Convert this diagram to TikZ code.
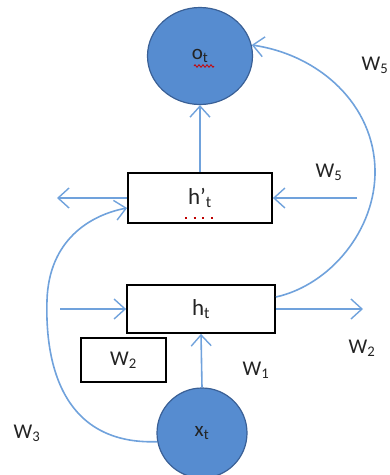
\documentclass[tikz,border=0pt]{standalone}
\usepackage{fontspec}
\setmainfont{Carlito}
\usetikzlibrary{arrows.meta,shapes.geometric,decorations.pathmorphing}

\definecolor{unitfill}{RGB}{86,140,208}
\definecolor{unitline}{RGB}{58,96,150}
\definecolor{wire}{RGB}{112,162,220}
\definecolor{ink}{RGB}{35,35,35}

\tikzset{
  unit/.style={ellipse, draw=unitline, line width=1.2pt, fill=unitfill,
               text=ink, inner sep=0pt},
  cell/.style={rectangle, draw=black, line width=1.8pt, fill=white,
               text=ink, inner sep=0pt},
  lbl/.style={text=ink, inner sep=0pt},
  conn/.style={draw=wire, line width=1.6pt,
               -{Straight Barb[length=11pt,width=20pt,line width=1.4pt]}},
  squiggle/.style={draw=red!80!black, line width=0.8pt, decorate,
                   decoration={zigzag, amplitude=1.3pt, segment length=4pt}},
  dots/.style={draw=red!75!black, line width=2pt, dash pattern=on 2pt off 6.6pt}
}

\begin{document}
\begin{tikzpicture}[x=1pt,y=-1pt, font=\fontsize{21}{24}\selectfont]
\useasboundingbox (0,0) rectangle (390,475);

% units and cells
\node[unit, minimum width=105pt, minimum height=97pt] (o) at (200,56) {o\textsubscript{t}};
\node[unit, minimum width=90pt, minimum height=90pt] (x) at (202,433) {x\textsubscript{t}};
\node[cell, minimum width=144pt, minimum height=50pt, font=\fontsize{23}{26}\selectfont]
     (hp) at (200,198) {h’\textsubscript{t}};
\node[cell, minimum width=148pt, minimum height=48pt, font=\fontsize{23}{26}\selectfont]
     (h) at (201,309) {h\textsubscript{t}};
\node[cell, minimum width=85pt, minimum height=44pt] (w2box) at (123.5,360) {W\textsubscript{2}};

% spell-check marks under the labels
\draw[squiggle] ([xshift=-6pt,yshift=-10pt]o.center) -- ++(20,0);
\draw[dots] ([xshift=-15pt,yshift=-20pt]hp.center) -- ++(29,0);

% free ends of the connectors
\coordinate (inL) at (60,309);
\coordinate (outR) at (363,309);
\coordinate (inR) at (357,198);
\coordinate (outL) at (57,198);

% straight connectors
\draw[conn] (x.north) -- (h.south);
\draw[conn] (hp.north) -- (o.south);
\draw[conn] (inL) -- (h.west);
\draw[conn] (h.east) -- (outR);
\draw[conn] (inR) -- (hp.east);
\draw[conn] (hp.west) -- (outL);

% recurrent arcs
\draw[conn] ([yshift=12pt]h.east) .. controls (330,285) and (376,230) .. (375,170)
            .. controls (374,105) and (320,55) .. (o.12);
\draw[conn] (x.191) .. controls (60,445) and (45,360) .. (47,300)
            .. controls (49,240) and (90,215) .. ([yshift=-10pt]hp.west);

% weight labels
\node[lbl] (w5a) at (375,65) {W\textsubscript{5}};
\node[lbl] (w5b) at (329,172) {W\textsubscript{5}};
\node[lbl] (w2r) at (362,348) {W\textsubscript{2}};
\node[lbl] (w1) at (256,370) {W\textsubscript{1}};
\node[lbl] (w3) at (27,433) {W\textsubscript{3}};
\end{tikzpicture}
\end{document}
